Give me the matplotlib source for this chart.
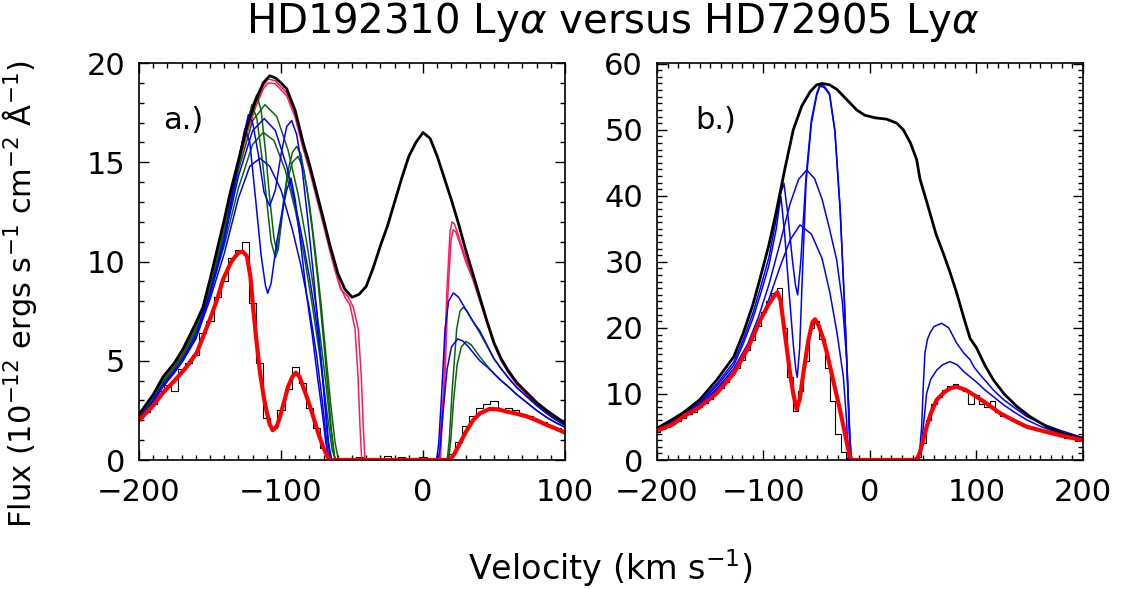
import numpy as np
import matplotlib
matplotlib.use("Agg")
import matplotlib.pyplot as plt
from matplotlib.ticker import MultipleLocator

# ------------------------------------------------------------------ #
#  Colours                                                            #
# ------------------------------------------------------------------ #
PINK = "#ff1a5a"
GREEN = "#0a640a"
BLUE = "#0000ff"
RED = "#ff0000"

# ------------------------------------------------------------------ #
#  Panel a.) HD192310                                                 #
# ------------------------------------------------------------------ #
# observed spectrum (5 km/s bins, -200 .. 100)
hist_a_vel = np.arange(-200, 105, 5)
hist_a_flux = [2.1, 2.4, 2.8, 3.5, 3.8, 3.5, 4.6, 4.9, 5.3, 6.4,
               7.0, 8.2, 9.0, 10.2, 10.6, 11.0, 7.9, 4.9, 2.1, 1.6,
               2.5, 3.6, 4.7, 3.9, 2.6, 1.6, 0.6, 0.05, 0.0, 0.1,
               -0.05, 0.15, 0.0, 0.1, 0.05, 0.2, 0.0, 0.15, 0.05, 0.1,
               0.15, 0.0, 0.1, 0.05, 0.3, 0.9, 1.7, 2.2, 2.6, 2.8,
               2.95, 2.5, 2.6, 2.5, 2.3, 2.2, 2.0, 1.9, 1.7, 1.6,
               1.5]

# intrinsic profile
black_a_vel = [-200, -190, -183, -175, -169, -160, -155, -150, -145, -140,
               -136, -130, -124, -118, -112.5, -108, -104, -100, -96, -90,
               -84.5, -80, -75, -70, -65.5, -60, -55, -50, -45, -40,
               -35, -30, -25, -20, -15, -10, -5, 0, 5, 10,
               15, 20, 25, 30, 35, 40, 45, 50, 55, 60,
               66, 73, 80, 87, 93, 100]
black_a_flux = [2.3, 3.3, 4.2, 4.9, 5.6, 6.9, 7.7, 9.1, 10.6, 12.1,
                13.4, 15.1, 16.8, 18.1, 19.0, 19.36, 19.25, 19.0, 18.7, 17.6,
                16.0, 14.9, 13.5, 12.1, 10.8, 9.4, 8.6, 8.2, 8.35, 8.75,
                9.7, 10.8, 11.8, 13.0, 14.2, 15.3, 16.0, 16.5, 16.2, 15.3,
                14.2, 13.1, 11.9, 10.6, 9.4, 8.2, 7.0, 5.9, 5.1, 4.5,
                3.9, 3.4, 2.9, 2.5, 2.2, 1.85]

# best fit
red_a_vel = [-200, -190, -183, -175, -167, -159.4, -150, -145, -140.8, -135,
             -130, -127, -124, -121.5, -119.7, -117, -114.8, -112, -110, -108,
             -105.9, -103, -100.7, -98, -95, -92, -89.6, -87, -84.5, -81,
             -77.4, -74, -70.4, -67.5, -65.5, 19, 22, 26, 30, 35.2,
             40, 47, 53, 59, 66, 73, 80, 87, 93, 100]
red_a_flux = [2.0, 2.75, 3.4, 4.0, 4.65, 5.4, 7.1, 8.1, 9.1, 10.0,
              10.45, 10.5, 10.27, 9.2, 7.7, 5.8, 4.4, 3.1, 2.4, 1.8,
              1.5, 1.7, 2.2, 2.9, 3.7, 4.2, 4.4, 4.2, 3.7, 3.0,
              2.2, 1.4, 0.66, 0.2, 0, 0, 0.3, 0.84, 1.4, 2.0,
              2.35, 2.58, 2.55, 2.44, 2.33, 2.2, 2.0, 1.77, 1.6, 1.38]

# pink models (blue wing + red wing)
pink_a_vel = [-200, -190, -183, -175, -169, -160, -155, -150, -145, -140,
              -136, -130, -124, -118, -112.5, -109, -104, -100, -96, -90,
              -84.5, -80, -75, -70, -65.5, -62, -58]
pink1_a_flux = [2.25, 3.25, 4.15, 4.85, 5.5, 6.8, 7.6, 9.0, 10.5, 12.0,
                13.3, 14.95, 16.6, 17.9, 18.85, 19.2, 19.1, 18.8, 18.5, 17.4,
                15.8, 14.7, 13.3, 11.9, 10.6, 9.7, 8.7]
pink2_a_flux = [2.2, 3.2, 4.1, 4.8, 5.45, 6.7, 7.5, 8.9, 10.4, 11.85,
                13.15, 14.8, 16.45, 17.75, 18.7, 19.0, 18.95, 18.65, 18.35, 17.25,
                15.7, 14.6, 13.2, 11.8, 10.5, 9.55, 8.6]
pink1_a_edge_vel = [-55, -51.4, -47.9, -45.8, -44.4, -43.2]
pink2_a_edge_vel = [-53, -49.1, -45.6, -43.5, -42.1, -40.9]
pink1_a_edge_flux = [8.2, 7.8, 6.6, 4.2, 1.7, 0]
pink2_a_edge_flux = [8.25, 7.7, 6.6, 4.2, 1.7, 0]
pink1_a_red_vel = [11.5, 12.5, 14.4, 16.7, 19, 20.5, 22, 25, 30, 35, 40,
                   45, 50, 55, 60, 66, 73, 80, 87, 93, 100]
pink1_a_red_flux = [0, 1.5, 3.4, 8.4, 11.5, 12.0, 11.9, 11.3, 10.2, 9.2, 8.1,
                    6.95, 5.85, 5.05, 4.45, 3.85, 3.35, 2.85, 2.45, 2.15, 1.82]
pink2_a_red_vel = [12.2, 13.2, 15.1, 17.4, 19.7, 21.2, 23, 26, 30, 35, 40,
                   45, 50, 55, 60, 66, 73, 80, 87, 93, 100]
pink2_a_red_flux = [0, 1.5, 3.4, 8.2, 11.1, 11.6, 11.5, 10.9, 10.0, 9.1, 8.0,
                    6.9, 5.8, 5.0, 4.4, 3.8, 3.3, 2.8, 2.4, 2.1, 1.8]

# green models
green1_a_vel = [-200, -190, -183, -175, -169, -160, -150, -140, -132, -126,
                -121, -117.1, -114, -111, -108, -105, -103, -101, -98, -95,
                -92, -89, -86, -82, -78, -74, -70, -67, -64.5, -62]
green1_a_flux = [2.2, 3.15, 4.0, 4.7, 5.35, 6.6, 8.7, 11.6, 14.4, 16.4,
                 17.7, 18.4, 17.6, 15.6, 13.2, 11.2, 10.5, 11.4, 13.2, 14.6,
                 15.5, 15.8, 15.4, 13.8, 11.6, 9.0, 6.0, 3.6, 1.5, 0]
green2_a_vel = [-200, -190, -183, -175, -169, -160, -150, -140, -132, -126,
                -120.6, -117, -113, -110, -107, -104, -102, -99, -96, -92,
                -88, -84, -80, -76, -72, -68, -65, -62, -59.6]
green2_a_flux = [2.15, 3.1, 3.95, 4.65, 5.3, 6.5, 8.6, 11.4, 14.1, 16.2,
                 17.9, 17.2, 15.0, 13.0, 11.0, 10.2, 10.6, 12.4, 14.0, 15.0,
                 15.3, 14.6, 12.9, 10.6, 8.0, 5.0, 2.8, 0.9, 0]
green3_a_vel = [-200, -190, -183, -175, -169, -160, -150, -140, -130, -120,
                -111.3, -103, -95, -88, -82, -77, -72, -68, -65, -62.5, -61]
green3_a_flux = [2.2, 3.1, 3.95, 4.65, 5.3, 6.5, 8.6, 11.4, 14.6, 17.1,
                 17.9, 17.3, 15.6, 13.4, 11.0, 8.6, 6.0, 3.6, 1.6, 0.2, 0]
green4_a_vel = [-200, -190, -183, -175, -169, -160, -150, -140, -130, -120,
                -112.5, -105, -97, -90, -84, -78, -73, -68, -64, -61.5]
green4_a_flux = [2.15, 3.05, 3.9, 4.6, 5.2, 6.4, 8.4, 10.8, 13.7, 15.9,
                 16.5, 16.1, 14.6, 12.6, 10.4, 7.8, 5.4, 2.6, 0.5, 0]
green1_a_red_vel = [17, 18.5, 20.5, 23.7, 26, 28.4, 31, 35, 40, 45,
                    50, 55, 60, 66, 73, 80, 87, 93, 100]
green1_a_red_flux = [0, 1.0, 3.5, 6.6, 7.5, 7.7, 7.5, 7.0, 6.4, 5.75,
                     5.1, 4.6, 4.15, 3.65, 3.2, 2.75, 2.35, 2.05, 1.75]
green2_a_red_vel = [18, 19.5, 21.5, 24, 27, 30.3, 34, 40, 45,
                    50, 55, 60, 66, 73, 80, 87, 93, 100]
green2_a_red_flux = [0, 1.0, 3.0, 4.8, 5.7, 5.97, 5.8, 5.2, 4.75,
                     4.35, 4.0, 3.7, 3.3, 2.9, 2.5, 2.15, 1.9, 1.65]

# blue models
blue1_a_vel = [-200, -190, -183, -175, -169, -160, -150, -140, -132, -127,
               -123, -120, -116, -112, -108, -104, -100, -96, -92.5, -89,
               -85, -81, -77, -73, -70, -67, -64.3]
blue1_a_flux = [2.1, 3.0, 3.8, 4.5, 5.1, 6.3, 8.4, 11.2, 14.2, 16.1,
                17.4, 17.0, 15.4, 13.5, 12.8, 13.6, 15.4, 16.8, 17.1, 16.4,
                14.6, 12.0, 9.2, 6.0, 3.5, 1.0, 0]
blue2_a_vel = [-200, -190, -183, -175, -169, -160, -150, -140, -133, -128.5,
               -125.4, -122, -118, -114, -111, -109.4, -107, -103, -99, -96,
               -93, -90, -86, -82, -78, -74, -71, -68.5, -66.5]
blue2_a_flux = [2.1, 2.95, 3.75, 4.45, 5.05, 6.2, 8.3, 11.0, 13.8, 15.6,
                16.7, 16.0, 13.2, 10.3, 8.8, 8.4, 8.9, 11.0, 12.6, 13.6,
                14.2, 13.1, 10.8, 8.3, 6.3, 4.0, 2.4, 0.9, 0]
blue3_a_vel = [-200, -190, -183, -175, -169, -160, -150, -140, -130, -120,
               -111.8, -104, -96, -88, -84, -80, -76, -72, -69, -66.5, -65.5]
blue3_a_flux = [2.1, 3.0, 3.8, 4.5, 5.1, 6.3, 8.4, 11.1, 14.3, 16.6,
                17.2, 16.6, 14.8, 12.2, 10.8, 9.2, 7.4, 5.2, 3.0, 0.8, 0]
blue4_a_vel = [-200, -190, -183, -175, -169, -160, -150, -140, -130, -122,
               -114.8, -108, -100, -92, -86, -80, -75, -71, -68, -66.5]
blue4_a_flux = [2.05, 2.9, 3.7, 4.4, 5.0, 6.1, 8.1, 10.4, 13.2, 14.8,
                15.2, 14.8, 13.6, 11.6, 9.8, 7.6, 5.3, 3.0, 1.0, 0]
blue1_a_red_vel = [9.5, 11, 13, 15.5, 18, 21.4, 25, 30, 35, 40,
                   45, 50, 55, 60, 66, 73, 80, 87, 93, 100]
blue1_a_red_flux = [0, 0.8, 3.2, 6.6, 8.0, 8.42, 8.2, 7.6, 7.0, 6.5,
                    5.8, 5.1, 4.6, 4.15, 3.65, 3.2, 2.75, 2.35, 2.05, 1.75]
blue2_a_red_vel = [10.5, 12, 14, 17, 20, 24.4, 28, 32, 36, 40,
                   45, 50, 55, 60, 66, 73, 80, 87, 93, 100]
blue2_a_red_flux = [0, 0.6, 2.4, 4.6, 5.7, 6.1, 6.0, 5.7, 5.35, 5.0,
                    4.7, 4.35, 4.0, 3.7, 3.3, 2.9, 2.5, 2.15, 1.9, 1.65]

# ------------------------------------------------------------------ #
#  Panel b.) HD72905                                                  #
# ------------------------------------------------------------------ #
hist_b_vel = np.arange(-200, 205, 5)
hist_b_flux = [4.3, 4.7, 5.0, 5.6, 5.9, 6.4, 6.9, 7.3, 8.0, 8.6,
               9.3, 10.2, 10.9, 11.8, 12.9, 14.0, 15.2, 16.6, 18.2, 20.3,
               22.4, 24.0, 25.3, 26.0, 20.0, 12.5, 7.4, 10.5, 15.0, 20.0,
               21.0, 18.3, 14.0, 9.0, 4.0, 1.2, 0.3, 0.0, 0.1, 0.0,
               0.1, 0.2, 0.0, 0.1, 0.0, 0.2, 0.1, 0.0, 0.2, 0.5,
               2.5, 6.0, 8.5, 9.5, 10.6, 11.2, 11.5, 10.9, 10.4, 8.5,
               9.8, 8.5, 8.0, 9.0, 7.3, 6.6, 6.4, 6.0, 5.6, 5.2,
               4.9, 4.7, 4.5, 4.3, 4.1, 3.9, 3.6, 3.4, 3.3, 2.9,
               3.1]

black_b_vel = [-200, -185, -175, -160, -144, -128, -119, -110, -103, -95,
               -87.6, -80, -72, -64, -56, -50, -45, -38, -31, -22,
               -12.5, -5, 0, 5, 15.7, 25, 31.3, 38, 43.8, 47,
               52, 56.3, 62, 68.8, 75, 81.4, 88, 94, 100, 108,
               116, 126, 138, 150, 166, 182, 200]
black_b_flux = [4.8, 6.2, 7.2, 9.1, 12.1, 15.6, 19.2, 23.5, 27.6, 32.5,
                37.9, 44.0, 50.0, 53.6, 55.8, 56.8, 57.0, 56.8, 56.1, 54.6,
                53.0, 52.2, 52.0, 51.8, 51.6, 51.0, 50.0, 48.0, 45.5, 42.5,
                39.8, 37.4, 34.2, 31.3, 28.5, 25.3, 21.6, 18.4, 17.0, 14.3,
                12.1, 10.0, 8.1, 6.6, 5.05, 4.0, 3.2]

red_b_vel = [-200, -185, -175, -160, -144, -128, -115, -103, -95, -90,
             -87, -84, -80, -75, -72, -68.8, -66, -62.6, -58, -54,
             -51.6, -48, -44, -40.7, -35, -28.2, -24, -21, -18.8, -17,
             43.8, 47, 50, 53.2, 57, 62.6, 70, 76, 81.4, 90,
             100, 110, 122, 135, 147, 160, 172, 185, 200]
red_b_flux = [4.45, 5.4, 6.6, 8.0, 10.1, 13.1, 16.8, 21.2, 23.6, 24.8,
              25.4, 24.2, 19.2, 13.1, 10.0, 7.7, 9.2, 13.1, 18.0, 20.9,
              21.3, 20.3, 18.4, 16.4, 12.4, 7.6, 4.4, 2.0, 0.6, 0,
              0, 1.2, 3.0, 5.0, 7.0, 9.1, 10.3, 10.9, 11.1, 10.6,
              9.6, 8.5, 7.1, 6.0, 5.05, 4.5, 4.0, 3.5, 3.0]

blue1_b_vel = [-200, -185, -175, -160, -144, -128, -119, -110, -103, -95,
               -88, -83.6, -80.8, -77, -73, -70, -67.9, -65, -60, -55,
               -50, -47, -43, -38, -33, -28, -24, -21, -19, -17.5]
blue1_b_flux = [4.6, 5.9, 6.9, 8.7, 11.5, 14.8, 18.2, 22.2, 26.0, 30.6,
                36.5, 40.5, 41.9, 37.0, 30.5, 26.5, 25.0, 30.0, 43.0, 51.5,
                55.5, 56.8, 56.6, 55.5, 50.0, 38.0, 24.0, 12.0, 4.0, 0]
blue2_b_vel = [-200, -185, -175, -160, -144, -128, -119, -110, -103, -95,
               -88, -85.5, -83.6, -80, -76, -72, -69.5, -68.3, -66, -63,
               -60, -55, -50, -47, -43, -38, -33, -28, -24, -21,
               -19, -17.5]
blue2_b_flux = [4.55, 5.8, 6.8, 8.5, 11.2, 14.3, 17.6, 21.4, 25.0, 29.4,
                35.0, 38.0, 39.9, 34.0, 25.5, 17.5, 13.5, 12.5, 17.0, 30.0,
                42.0, 51.0, 55.2, 56.6, 56.4, 55.3, 49.8, 37.8, 23.8, 11.8,
                3.9, 0]
blue3_b_vel = [-200, -185, -175, -160, -144, -128, -115, -105, -95, -85,
               -75, -67, -59.4, -52, -45, -38, -31.3, -26, -21.9, -19.8,
               -18.8]
blue3_b_flux = [4.5, 5.7, 6.7, 8.3, 10.8, 13.8, 17.5, 21.5, 26.5, 32.5,
                38.8, 42.5, 43.9, 42.6, 39.5, 35.0, 30.3, 24.0, 15.2, 6.0,
                0]
blue4_b_vel = [-200, -185, -175, -160, -144, -128, -115, -105, -95, -85,
               -75, -65.7, -55, -45, -37.6, -31, -25, -22, -20.4]
blue4_b_flux = [4.5, 5.65, 6.6, 8.2, 10.6, 13.4, 16.8, 20.3, 24.3, 29.0,
                33.3, 35.6, 34.2, 30.5, 25.3, 19.3, 12.6, 6.0, 0]
blue1_b_red_vel = [45.4, 47, 48.5, 50, 51.6, 54, 56.3, 60, 67.3, 74,
                   81.4, 88, 93.9, 98, 104, 110, 115.8, 125, 135, 147,
                   160, 178.4, 190, 200]
blue1_b_red_flux = [0, 2.0, 5.0, 11.0, 16.2, 18.3, 19.2, 20.2, 20.7, 20.0,
                    17.7, 16.2, 15.2, 14.0, 12.8, 11.7, 10.6, 9.2, 8.0, 6.6,
                    5.6, 4.5, 3.9, 3.4]
blue2_b_red_vel = [45.4, 47, 48.5, 51, 53.2, 57, 62.6, 68, 75.1, 82,
                   88, 93.9, 100, 108, 115.8, 125, 135, 147, 160, 178.4,
                   190, 200]
blue2_b_red_flux = [0, 1.0, 2.5, 6.5, 10.1, 12.2, 13.6, 14.4, 14.9, 14.4,
                    13.4, 12.6, 11.8, 10.6, 9.6, 8.4, 7.3, 6.1, 5.1, 4.0,
                    3.5, 3.15]

FONT = "DejaVu Sans"
TICK_FS = 22
LABEL_FS = 22


def style_axes(ax, xlim, ylim, xmajor, ymajor, yminor):
    ax.set_xlim(*xlim)
    ax.set_ylim(*ylim)
    ax.xaxis.set_major_locator(MultipleLocator(xmajor))
    ax.xaxis.set_minor_locator(MultipleLocator(10))
    ax.yaxis.set_major_locator(MultipleLocator(ymajor))
    ax.yaxis.set_minor_locator(MultipleLocator(yminor))
    ax.tick_params(which="both", direction="in", top=True, right=True,
                   width=1.0, labelsize=TICK_FS)
    ax.tick_params(which="major", length=7)
    ax.tick_params(which="minor", length=3.5)
    ax.tick_params(axis="x", pad=13)
    ax.tick_params(axis="y", pad=10)
    for sp in ax.spines.values():
        sp.set_linewidth(1.2)


def join(v1, f1, v2, f2):
    return list(v1) + list(v2), list(f1) + list(f2)


def main():
    plt.rcParams["font.family"] = [FONT]
    fig = plt.figure(figsize=(11.24, 5.89), dpi=100)
    ax_a = fig.add_axes([0.1237, 0.219, 0.379, 0.674])
    ax_b = fig.add_axes([0.5845, 0.219, 0.379, 0.674])

    # ---- panel a ----
    ax = ax_a
    ax.step(hist_a_vel, hist_a_flux, where="mid", color="black", lw=0.8)
    for vel, flux, evel, eflux, rvel, rflux in [
            (pink_a_vel, pink1_a_flux, pink1_a_edge_vel, pink1_a_edge_flux,
             pink1_a_red_vel, pink1_a_red_flux),
            (pink_a_vel, pink2_a_flux, pink2_a_edge_vel, pink2_a_edge_flux,
             pink2_a_red_vel, pink2_a_red_flux)]:
        v, f = join(vel, flux, evel, eflux)
        v, f = join(v, f, rvel, rflux)
        ax.plot(v, f, color=PINK, lw=1.1)
    for vel, flux, rvel, rflux in [
            (green1_a_vel, green1_a_flux, green1_a_red_vel, green1_a_red_flux),
            (green2_a_vel, green2_a_flux, green2_a_red_vel, green2_a_red_flux)]:
        ax.plot(*join(vel, flux, rvel, rflux), color=GREEN, lw=1.1)
    ax.plot(green3_a_vel, green3_a_flux, color=GREEN, lw=1.1)
    ax.plot(green4_a_vel, green4_a_flux, color=GREEN, lw=1.1)
    for vel, flux, rvel, rflux in [
            (blue1_a_vel, blue1_a_flux, blue1_a_red_vel, blue1_a_red_flux),
            (blue2_a_vel, blue2_a_flux, blue2_a_red_vel, blue2_a_red_flux)]:
        ax.plot(*join(vel, flux, rvel, rflux), color=BLUE, lw=1.1)
    ax.plot(blue3_a_vel, blue3_a_flux, color=BLUE, lw=1.1)
    ax.plot(blue4_a_vel, blue4_a_flux, color=BLUE, lw=1.1)
    ax.plot(black_a_vel, black_a_flux, color="black", lw=2.0)
    ax.plot(red_a_vel, red_a_flux, color=RED, lw=3.0)
    style_axes(ax, (-200, 100), (0, 20.0), 100, 5, 1)
    ax.text(0.056, 0.855, "a.)", transform=ax.transAxes, fontsize=22,
            va="center", ha="left")

    # ---- panel b ----
    ax = ax_b
    ax.step(hist_b_vel, hist_b_flux, where="mid", color="black", lw=0.8)
    for vel, flux, rvel, rflux in [
            (blue1_b_vel, blue1_b_flux, blue1_b_red_vel, blue1_b_red_flux),
            (blue2_b_vel, blue2_b_flux, blue2_b_red_vel, blue2_b_red_flux)]:
        ax.plot(*join(vel, flux, rvel, rflux), color=BLUE, lw=1.1)
    ax.plot(blue3_b_vel, blue3_b_flux, color=BLUE, lw=1.1)
    ax.plot(blue4_b_vel, blue4_b_flux, color=BLUE, lw=1.1)
    ax.plot(black_b_vel, black_b_flux, color="black", lw=2.0)
    ax.plot(red_b_vel, red_b_flux, color=RED, lw=3.0)
    style_axes(ax, (-200, 200), (0, 60.1), 100, 10, 1)
    ax.text(0.089, 0.855, "b.)", transform=ax.transAxes, fontsize=22,
            va="center", ha="left")

    fig.text(0.545, 0.962, r"HD192310 Ly$\alpha$ versus HD72905 Ly$\alpha$",
             fontsize=29, ha="center", va="center")
    fig.text(0.543, 0.036, r"Velocity (km s$^{-1}$)", fontsize=LABEL_FS + 2,
             ha="center", va="center")
    fig.text(0.017, 0.5,
             r"Flux (10$^{-12}$ ergs s$^{-1}$ cm$^{-2}$ $\mathrm{\AA}^{-1}$)",
             fontsize=LABEL_FS, rotation=90, ha="center", va="center")

    fig.savefig("out.png", dpi=100, facecolor="white")
    plt.close(fig)


if __name__ == "__main__":
    main()
